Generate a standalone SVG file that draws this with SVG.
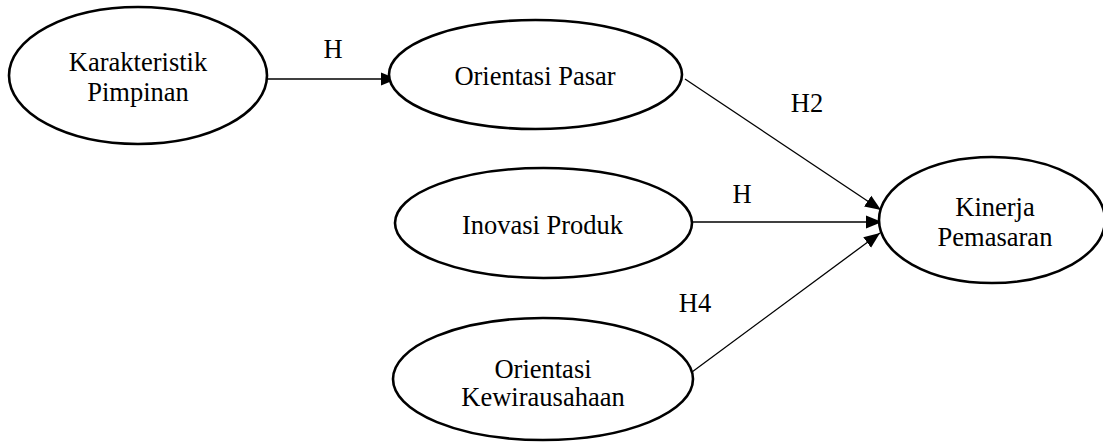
<svg xmlns="http://www.w3.org/2000/svg" width="1103" height="443" viewBox="0 0 1103 443">
<style>
  .node ellipse { fill: #fff; stroke: #000; stroke-width: 2.6; }
  text { font-family: "Liberation Serif", "Times New Roman", serif; font-size: 26.5px; fill: #000; text-anchor: middle; }
  .conn line { stroke: #000; stroke-width: 1.3; fill: none; marker-end: url(#arrow); }
</style>
<defs>
  <marker id="arrow" markerUnits="userSpaceOnUse" markerWidth="17" markerHeight="14" refX="16" refY="7" orient="auto">
    <path d="M0,0.5 L16,7 L0,13.5 z" fill="#000"/>
  </marker>
</defs>
<rect width="1103" height="443" fill="#fff"/>
<g id="connectors" class="conn">
  <line x1="267" y1="79" x2="397" y2="79"/>
  <line x1="685" y1="79" x2="881" y2="210"/>
  <line x1="692" y1="222" x2="882" y2="222"/>
  <line x1="692" y1="372" x2="880" y2="233"/>
</g>
<g id="labels">
  <text x="333" y="58">H</text>
  <text x="807" y="112">H2</text>
  <text x="742" y="203">H</text>
  <text x="695" y="312">H4</text>
</g>
<g id="karakteristik" class="node">
  <ellipse cx="138" cy="75.5" rx="129" ry="68.5"/>
  <text x="138" y="70.5">Karakteristik</text>
  <text x="138" y="100.5">Pimpinan</text>
</g>
<g id="orientasi-pasar" class="node">
  <ellipse cx="535.5" cy="74.5" rx="146.5" ry="54.5"/>
  <text x="535" y="85">Orientasi Pasar</text>
</g>
<g id="inovasi-produk" class="node">
  <ellipse cx="543.5" cy="223" rx="148.5" ry="55"/>
  <text x="542.5" y="234">Inovasi Produk</text>
</g>
<g id="orientasi-kewirausahaan" class="node">
  <ellipse cx="543" cy="379" rx="150" ry="61"/>
  <text x="543" y="378">Orientasi</text>
  <text x="543" y="406">Kewirausahaan</text>
</g>
<g id="kinerja-pemasaran" class="node">
  <ellipse cx="992" cy="220" rx="113" ry="63"/>
  <text x="995" y="215.5">Kinerja</text>
  <text x="995" y="245.5">Pemasaran</text>
</g>
</svg>
